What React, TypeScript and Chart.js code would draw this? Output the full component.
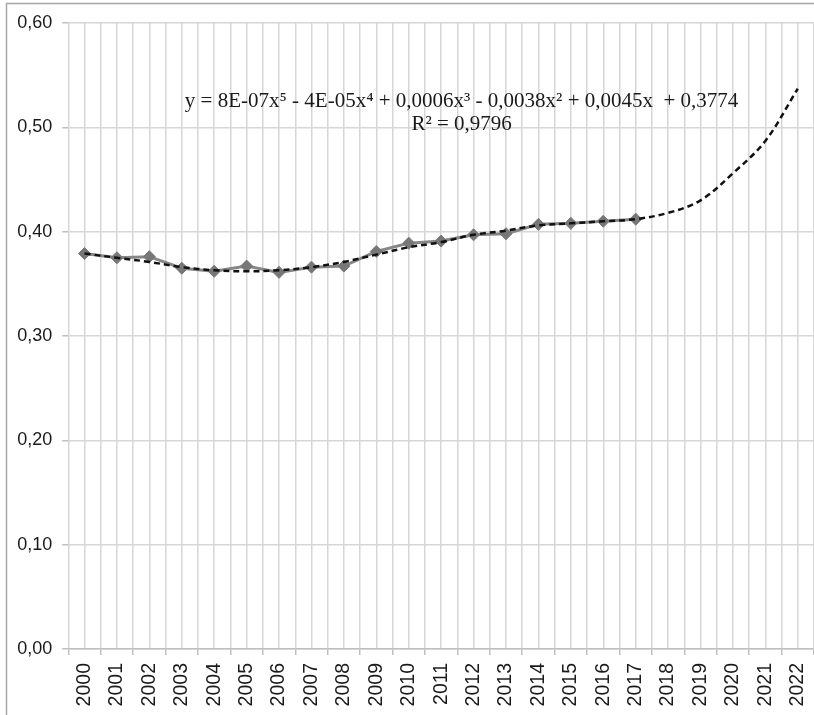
import React, { useEffect, useRef } from "react";
import { Chart, registerables } from "chart.js";

Chart.register(...registerables);

const years = [
  "2000", "2001", "2002", "2003", "2004", "2005", "2006", "2007", "2008", "2009", "2010",
  "2011", "2012", "2013", "2014", "2015", "2016", "2017", "2018", "2019", "2020", "2021", "2022",
];
const observed = [
  0.379, 0.375, 0.376, 0.365, 0.362, 0.367, 0.361, 0.366, 0.367, 0.381, 0.389,
  0.391, 0.397, 0.398, 0.407, 0.408, 0.41, 0.412,
];
const trend = [
  0.379, 0.375, 0.371, 0.366, 0.363, 0.362, 0.363, 0.366, 0.371, 0.378, 0.385,
  0.39, 0.397, 0.401, 0.406, 0.408, 0.41, 0.412, 0.418, 0.43, 0.456, 0.487, 0.537,
];
const yTicks = [0, 0.1, 0.2, 0.3, 0.4, 0.5, 0.6];
const equationLines = [
  "y = 8E-07x\u2075 - 4E-05x\u2074 + 0,0006x\u00B3 - 0,0038x\u00B2 + 0,0045x  + 0,3774",
  "R\u00B2 = 0,9796",
];

const overlayPlugin = {
  id: "overlay",
  beforeDraw(chart: any) {
    const ctx = chart.ctx;
    ctx.save();
    ctx.fillStyle = "#ffffff";
    ctx.fillRect(0, 0, chart.width, chart.height);
    ctx.strokeStyle = "#a6a6a6";
    ctx.lineWidth = 1.5;
    ctx.beginPath();
    ctx.moveTo(6.5, chart.height);
    ctx.lineTo(6.5, 3.5);
    ctx.lineTo(chart.width, 3.5);
    ctx.stroke();
    ctx.restore();
  },
  afterDatasetsDraw(chart: any) {
    const ctx = chart.ctx;
    const area = chart.chartArea;
    const cx = chart.scales.x.getPixelForValue(11.63);
    ctx.save();
    ctx.fillStyle = "#1a1a1a";
    ctx.font = "21px 'Liberation Serif', 'Times New Roman', serif";
    ctx.textAlign = "center";
    ctx.textBaseline = "middle";
    ctx.fillText(equationLines[0], cx, area.top + 78);
    ctx.fillText(equationLines[1], cx, area.top + 101);
    ctx.restore();
  },
};

export default function App() {
  const ref = useRef<HTMLCanvasElement | null>(null);
  useEffect(() => {
    if (!ref.current) return;
    Chart.defaults.font.family = "'Liberation Sans', Arial, sans-serif";
    const chart = new Chart(ref.current, {
      type: "line",
      data: {
        datasets: [
          {
            label: "trend",
            data: trend.map((v, i) => ({ x: i, y: v })),
            borderColor: "#111111",
            borderWidth: 2.5,
            borderDash: [6, 4],
            pointRadius: 0,
            tension: 0.35,
            fill: false,
          },
          {
            label: "data",
            data: observed.map((v, i) => ({ x: i, y: v })),
            borderColor: "#878787",
            borderWidth: 3,
            pointStyle: "rectRot",
            pointRadius: 6,
            pointBackgroundColor: "#777777",
            pointBorderColor: "#777777",
            pointBorderWidth: 1,
            tension: 0,
            fill: false,
          },
        ],
      },
      options: {
        animation: false,
        responsive: false,
        maintainAspectRatio: false,
        layout: { autoPadding: false, padding: { top: 23, left: 0, right: 0, bottom: 0 } },
        plugins: { legend: { display: false }, tooltip: { enabled: false } },
        scales: {
          x: {
            type: "linear",
            min: -0.5,
            max: years.length - 0.5,
            afterFit: (s: any) => {
              s.height = 66;
              s.paddingLeft = 0;
              s.paddingRight = 0;
            },
            ticks: {
              stepSize: 0.5,
              autoSkip: false,
              maxRotation: 90,
              minRotation: 90,
              padding: 8,
              color: "#1a1a1a",
              font: { size: 19.5 },
              callback: (v: any) => {
                const n = Number(v);
                return Number.isInteger(n) ? years[n] : "";
              },
            },
            grid: {
              color: "#d6d6d6",
              lineWidth: 1.5,
              tickLength: 6,
              tickColor: (c: any) =>
                c.tick && !Number.isInteger(c.tick.value) ? "#bfbfbf" : "rgba(0,0,0,0)",
            },
            border: { color: "#bfbfbf", width: 1.5 },
          },
          y: {
            min: 0,
            max: 0.6,
            afterFit: (s: any) => {
              s.width = 68.3;
            },
            afterBuildTicks: (s: any) => {
              s.ticks = yTicks.map((v) => ({ value: v }));
            },
            ticks: {
              padding: 10,
              color: "#1a1a1a",
              font: { size: 18 },
              callback: (v: any) => Number(v).toFixed(2).replace(".", ","),
            },
            grid: {
              color: "#d6d6d6",
              lineWidth: 1.5,
              tickLength: 6,
              tickColor: "#bfbfbf",
            },
            border: { display: false },
          },
        },
      },
      plugins: [overlayPlugin],
    } as any);
    return () => chart.destroy();
  }, []);
  return (
    <div style={{ position: "absolute", left: 0, top: 0, width: 814, height: 715 }}>
      <canvas ref={ref} width={814} height={715} style={{ width: 814, height: 715 }} />
    </div>
  );
}
